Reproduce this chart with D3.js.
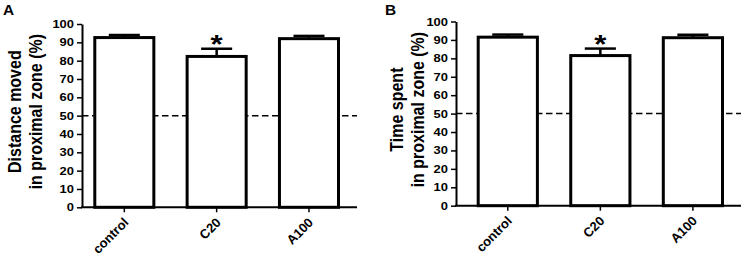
<!DOCTYPE html>
<html>
<head>
<meta charset="utf-8">
<script src="https://cdn.jsdelivr.net/npm/d3@7"></script>
<style>
  html, body { margin: 0; padding: 0; background: #fff; }
  svg { display: block; }
</style>
</head>
<body>
<div id="container"></div>
<script>
/* DATA */
const categories = ["control", "C20", "A100"];
const distanceMean = [92.6, 82.3, 92.0];
const distanceSem = [1.4, 4.2, 1.5];
const timeMean = [91.5, 81.5, 91.2];
const timeSem = [1.4, 3.8, 1.6];
const significance = ["", "*", ""];
const yTicks = [0, 10, 20, 30, 40, 50, 60, 70, 80, 90, 100];
const chanceLevel = 50;

const width = 743, height = 263;
const font = "'Liberation Sans', Arial, Helvetica, sans-serif";
const stretch = 1.2; // the source figure's lettering is a bit wider than tall

// layout of each panel (pixels)
const panels = [
  {label: "A", title: ["Distance moved", "in proximal zone (%)"], mean: distanceMean, sem: distanceSem,
   axisX: 82, axisEnd: 357, y0: 207.3, y1: 24, barL: 93.3, barR: 340, titleX: 21, labelX: 3},
  {label: "B", title: ["Time spent", "in proximal zone (%)"], mean: timeMean, sem: timeSem,
   axisX: 456, axisEnd: 741, y0: 205.7, y1: 21.5, barL: 476.7, barR: 724, titleX: 403, labelX: 385}
];

const svg = d3.select("#container")
  .append("svg")
  .attr("width", width)
  .attr("height", height)
  .attr("font-family", font)
  .attr("font-weight", "bold");

const sw = 3; // bar outline

panels.forEach(p => {
  const rows = categories.map((c, i) => ({cat: c, mean: p.mean[i], sem: p.sem[i], sig: significance[i]}));

  const y = d3.scaleLinear().domain([0, 100]).range([p.y0, p.y1]);
  const x = d3.scaleBand()
    .domain(categories)
    .range([p.barL, p.barR])
    .paddingInner(0.328)
    .paddingOuter(0);
  const cx = d => x(d) + x.bandwidth() / 2;

  const g = svg.append("g");

  // chance line (behind the bars)
  g.append("line")
    .attr("x1", p.axisX).attr("x2", p.axisEnd)
    .attr("y1", y(chanceLevel)).attr("y2", y(chanceLevel))
    .attr("stroke", "#000")
    .attr("stroke-width", 1.5)
    .attr("stroke-dasharray", "6.5,3.5");

  // bars
  g.selectAll("rect.bar")
    .data(rows)
    .join("rect")
    .attr("class", "bar")
    .attr("x", d => x(d.cat) + sw / 2)
    .attr("width", x.bandwidth() - sw)
    .attr("y", d => y(d.mean))
    .attr("height", d => y(0) - y(d.mean))
    .attr("fill", "#fff")
    .attr("stroke", "#000")
    .attr("stroke-width", sw);

  // error bars (upper only)
  const capW = x.bandwidth() / 2;
  g.selectAll("line.stem")
    .data(rows)
    .join("line")
    .attr("class", "stem")
    .attr("x1", d => cx(d.cat))
    .attr("x2", d => cx(d.cat))
    .attr("y1", d => y(d.mean))
    .attr("y2", d => y(d.mean + d.sem))
    .attr("stroke", "#000")
    .attr("stroke-width", 2.5);

  g.selectAll("line.cap")
    .data(rows)
    .join("line")
    .attr("class", "cap")
    .attr("x1", d => cx(d.cat) - capW / 2)
    .attr("x2", d => cx(d.cat) + capW / 2)
    .attr("y1", d => y(d.mean + d.sem))
    .attr("y2", d => y(d.mean + d.sem))
    .attr("stroke", "#000")
    .attr("stroke-width", 2.5);

  // significance star
  g.selectAll("text.sig")
    .data(rows.filter(d => d.sig))
    .join("text")
    .attr("class", "sig")
    .attr("transform", d => `translate(${cx(d.cat)},${y(d.mean + d.sem) + 4}) scale(1.25,1)`)
    .attr("text-anchor", "middle")
    .attr("font-size", 25)
    .text(d => d.sig);

  // y axis
  const yAxis = d3.axisLeft(y).tickValues(yTicks).tickSize(5).tickPadding(3).tickSizeOuter(0);
  g.append("g")
    .attr("transform", `translate(${p.axisX},0)`)
    .call(yAxis)
    .call(a => a.select(".domain").attr("stroke-width", 2))
    .call(a => a.selectAll(".tick line").attr("stroke-width", 1.5))
    .call(a => a.selectAll(".tick text")
      .attr("font-family", font).attr("font-weight", "bold")
      .attr("font-size", 11).attr("fill", "#000")
      .attr("textLength", d => String(d).length * 7.2)
      .attr("lengthAdjust", "spacingAndGlyphs"));

  // x axis line
  g.append("line")
    .attr("x1", p.axisX - 1).attr("x2", p.axisEnd)
    .attr("y1", y(0)).attr("y2", y(0))
    .attr("stroke", "#000")
    .attr("stroke-width", 2);

  // x ticks and rotated labels
  const xt = g.selectAll("g.xtick")
    .data(categories)
    .join("g")
    .attr("class", "xtick")
    .attr("transform", d => `translate(${cx(d)},${y(0)})`);
  xt.append("line")
    .attr("y1", 0).attr("y2", 5)
    .attr("stroke", "#000").attr("stroke-width", 1.5);
  xt.append("text")
    .attr("transform", "translate(5,16) rotate(-45)")
    .attr("text-anchor", "end")
    .attr("font-size", 13)
    .text(d => d);

  // y title
  const cy = (p.y0 + p.y1) / 2 - 4;
  const t = g.append("text")
    .attr("transform", `translate(${p.titleX},${cy}) scale(${stretch},1) rotate(-90)`)
    .attr("text-anchor", "middle")
    .attr("font-size", 16);
  p.title.forEach((line, i) => {
    t.append("tspan").attr("x", 0).attr("dy", i === 0 ? "0" : "1.1em").text(line);
  });

  // panel letter
  g.append("text")
    .attr("transform", `translate(${p.labelX},15) scale(1.1,1)`)
    .attr("font-size", 14)
    .text(p.label);
});
</script>
</body>
</html>
